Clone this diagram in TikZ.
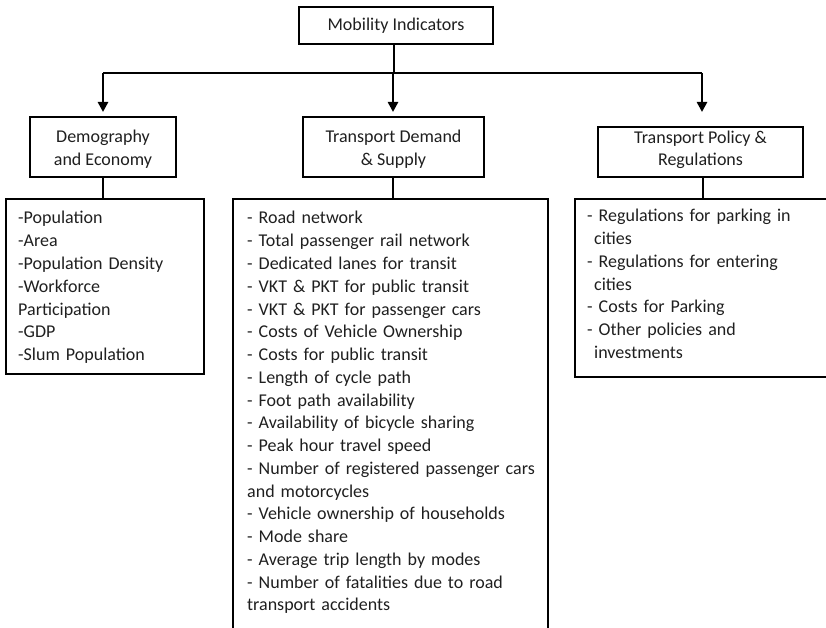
\documentclass[tikz,border=0pt]{standalone}
\usepackage{fontspec}
\setmainfont{Carlito}
\usetikzlibrary{arrows.meta}
\tikzset{
  boxnode/.style={draw=black, line width=1.3pt, rectangle, inner sep=0pt},
  headtext/.style={font=\fontsize{18}{22.5}\selectfont, align=center, inner sep=0pt, text=black!88},
  listtext/.style={font=\fontsize{18}{22.75}\selectfont, align=left, inner sep=0pt, anchor=base west, text width=#1, text=black!88},
  conn/.style={line width=1.3pt},
  arr/.style={line width=2.5pt, -{Triangle[width=10pt,length=10pt]}},
}
\begin{document}
\begin{tikzpicture}[x=1pt,y=-1pt]
\useasboundingbox (0,0) rectangle (826,628);
% header boxes
\node[boxnode, minimum width=194pt, minimum height=37pt] (mob) at (396,25.5) {};
\node[headtext] (mobt) at (396,25.5) {Mobility Indicators};
\node[boxnode, minimum width=146pt, minimum height=60pt] (demo) at (103,147) {};
\node[headtext] (demot) at (103,149) {Demography\\and Economy};
\node[boxnode, minimum width=181pt, minimum height=60pt] (tds) at (393.5,147) {};
\node[headtext] (tdst) at (393.5,149) {Transport Demand\\\& Supply};
\node[boxnode, minimum width=205pt, minimum height=50pt] (tpr) at (700.5,152) {};
\node[headtext] (tprt) at (700.5,150) {Transport Policy \&\\Regulations};
% list boxes
\node[boxnode, minimum width=198pt, minimum height=175pt] (demol) at (105,286.5) {};
\node[boxnode, minimum width=315pt, minimum height=441pt] (tdsl) at (390.5,419.5) {};
\node[boxnode, minimum width=260pt, minimum height=178pt] (tprl) at (705,288) {};
% list texts
\node[listtext=185pt] (demolt) at (18,224) {-Population\\-Area\\-Population Density\\-Workforce\\Participation\\-GDP\\-Slum Population};
\node[listtext=300pt] (tdslt) at (247,224) {- Road network\\- Total passenger rail network\\- Dedicated lanes for transit\\- VKT \& PKT for public transit\\- VKT \& PKT for passenger cars\\- Costs of Vehicle Ownership\\- Costs for public transit\\- Length of cycle path\\- Foot path availability\\- Availability of bicycle sharing\\- Peak hour travel speed\\- Number of registered passenger cars\\and motorcycles\\- Vehicle ownership of households\\- Mode share\\- Average trip length by modes\\- Number of fatalities due to road\\transport accidents};
\node[listtext=235pt] (tprlt) at (587,222) {- Regulations for parking in\\\hspace*{7pt}cities\\- Regulations for entering\\\hspace*{7pt}cities\\- Costs for Parking\\- Other policies and\\\hspace*{7pt}investments};
% connectors
\coordinate (hub) at (394,73);
\coordinate (hl) at (103,73);
\coordinate (hm) at (393,73);
\coordinate (hr) at (702,73);
\coordinate (tl) at (103,112);
\coordinate (tm) at (393,112);
\coordinate (tr) at (702,112);
\coordinate (pl) at (103,177);
\coordinate (ql) at (103,199);
\coordinate (pm) at (393,177);
\coordinate (qm) at (393,199);
\coordinate (pr) at (703,177);
\coordinate (qr) at (703,199);
\draw[conn] (mob.south -| hub) -- (hub);
\draw[conn] (hl) -- (hr);
\draw[arr] (hl) -- (tl);
\draw[arr] (hm) -- (tm);
\draw[arr] (hr) -- (tr);
\draw[conn] (pl) -- (ql);
\draw[conn] (pm) -- (qm);
\draw[conn] (pr) -- (qr);
\end{tikzpicture}
\end{document}
